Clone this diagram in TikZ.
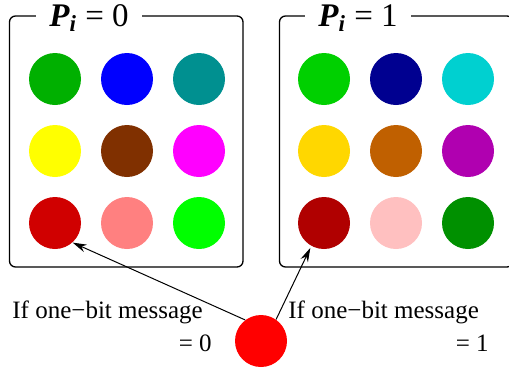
\documentclass[tikz,border=0pt]{standalone}
\usepackage{fontspec}
\setmainfont{Liberation Serif}
\usepackage{tikz}
\usetikzlibrary{arrows.meta}
\definecolor{grnA}{HTML}{00B000}
\definecolor{bluA}{HTML}{0000FF}
\definecolor{cyaA}{HTML}{009090}
\definecolor{yelA}{HTML}{FFFF00}
\definecolor{brnA}{HTML}{803000}
\definecolor{magA}{HTML}{FF00FF}
\definecolor{redA}{HTML}{D00000}
\definecolor{pnkA}{HTML}{FF8080}
\definecolor{limA}{HTML}{00FF00}
\definecolor{grnB}{HTML}{00D000}
\definecolor{bluB}{HTML}{000090}
\definecolor{cyaB}{HTML}{00D0D0}
\definecolor{yelB}{HTML}{FFD700}
\definecolor{brnB}{HTML}{C06000}
\definecolor{magB}{HTML}{B000B0}
\definecolor{redB}{HTML}{B00000}
\definecolor{pnkB}{HTML}{FFC0C0}
\definecolor{limB}{HTML}{009000}
\definecolor{msgred}{HTML}{FF0000}
\tikzset{
  % Panel for one value of P_i
  panel/.style={
    rectangle, rounded corners=3pt, draw=black, line width=0.65pt,
    minimum width=116.75pt, minimum height=125.5pt, inner sep=0pt,
  },
  % Title that breaks the top border
  paneltitle/.style={
    fill=white, inner xsep=6.5pt, inner ysep=1pt, anchor=base,
    font=\fontsize{16.5}{19}\selectfont,
  },
  % Coloured discs
  dot/.style={circle, fill=#1, draw=none, inner sep=0pt, minimum size=26pt},
  dot/.default={msgred},
  % Arrows from the message
  msgarrow/.style={-{Stealth[length=7pt, width=4pt]}, line width=0.5pt},
  % Labels next to the message
  msglabel/.style={font=\fontsize{12.5}{15}\selectfont, inner sep=0pt},
}
\begin{document}
\begin{tikzpicture}[x=0.5pt, y=-0.5pt]

  \clip (0, 0) rectangle (509, 370);

  % Left panel
  \node[panel] (box0) at (126.25, 141.5) {};
  \node[paneltitle] (title0) at (89, 26) {\textbf{\textit{P}}\textsubscript{\textbf{\textit{i}}} = 0};

  \node[dot=grnA] (a11) at (55, 79) {};
  \node[dot=bluA] (a12) at (127, 79) {};
  \node[dot=cyaA] (a13) at (199, 79) {};
  \node[dot=yelA] (a21) at (55, 151) {};
  \node[dot=brnA] (a22) at (127, 151) {};
  \node[dot=magA] (a23) at (199, 151) {};
  \node[dot=redA] (a31) at (55, 223) {};
  \node[dot=pnkA] (a32) at (127, 223) {};
  \node[dot=limA] (a33) at (199, 223) {};

  % Right panel
  \node[panel] (box1) at (396.25, 141.5) {};
  \node[paneltitle] (title1) at (358, 26) {\textbf{\textit{P}}\textsubscript{\textbf{\textit{i}}} = 1};

  \node[dot=grnB] (b11) at (324, 79) {};
  \node[dot=bluB] (b12) at (396, 79) {};
  \node[dot=cyaB] (b13) at (468, 79) {};
  \node[dot=yelB] (b21) at (324, 151) {};
  \node[dot=brnB] (b22) at (396, 151) {};
  \node[dot=magB] (b23) at (468, 151) {};
  \node[dot=redB] (b31) at (324, 223) {};
  \node[dot=pnkB] (b32) at (396, 223) {};
  \node[dot=limB] (b33) at (468, 223) {};

  % Message bit
  \node[dot] (msg) at (261, 341) {};

  \node[msglabel, anchor=base west] (lab0) at (12, 318) {If one−bit message};
  \node[msglabel, anchor=base east] (val0) at (212, 351) {= 0};
  \node[msglabel, anchor=base west] (lab1) at (288, 318) {If one−bit message};
  \node[msglabel, anchor=base east] (val1) at (489, 351) {= 1};

  \draw[msgarrow] (msg.127) -- (a31.-48);
  \draw[msgarrow, shorten >=1pt] (msg.55) -- (b31.241);

\end{tikzpicture}
\end{document}
